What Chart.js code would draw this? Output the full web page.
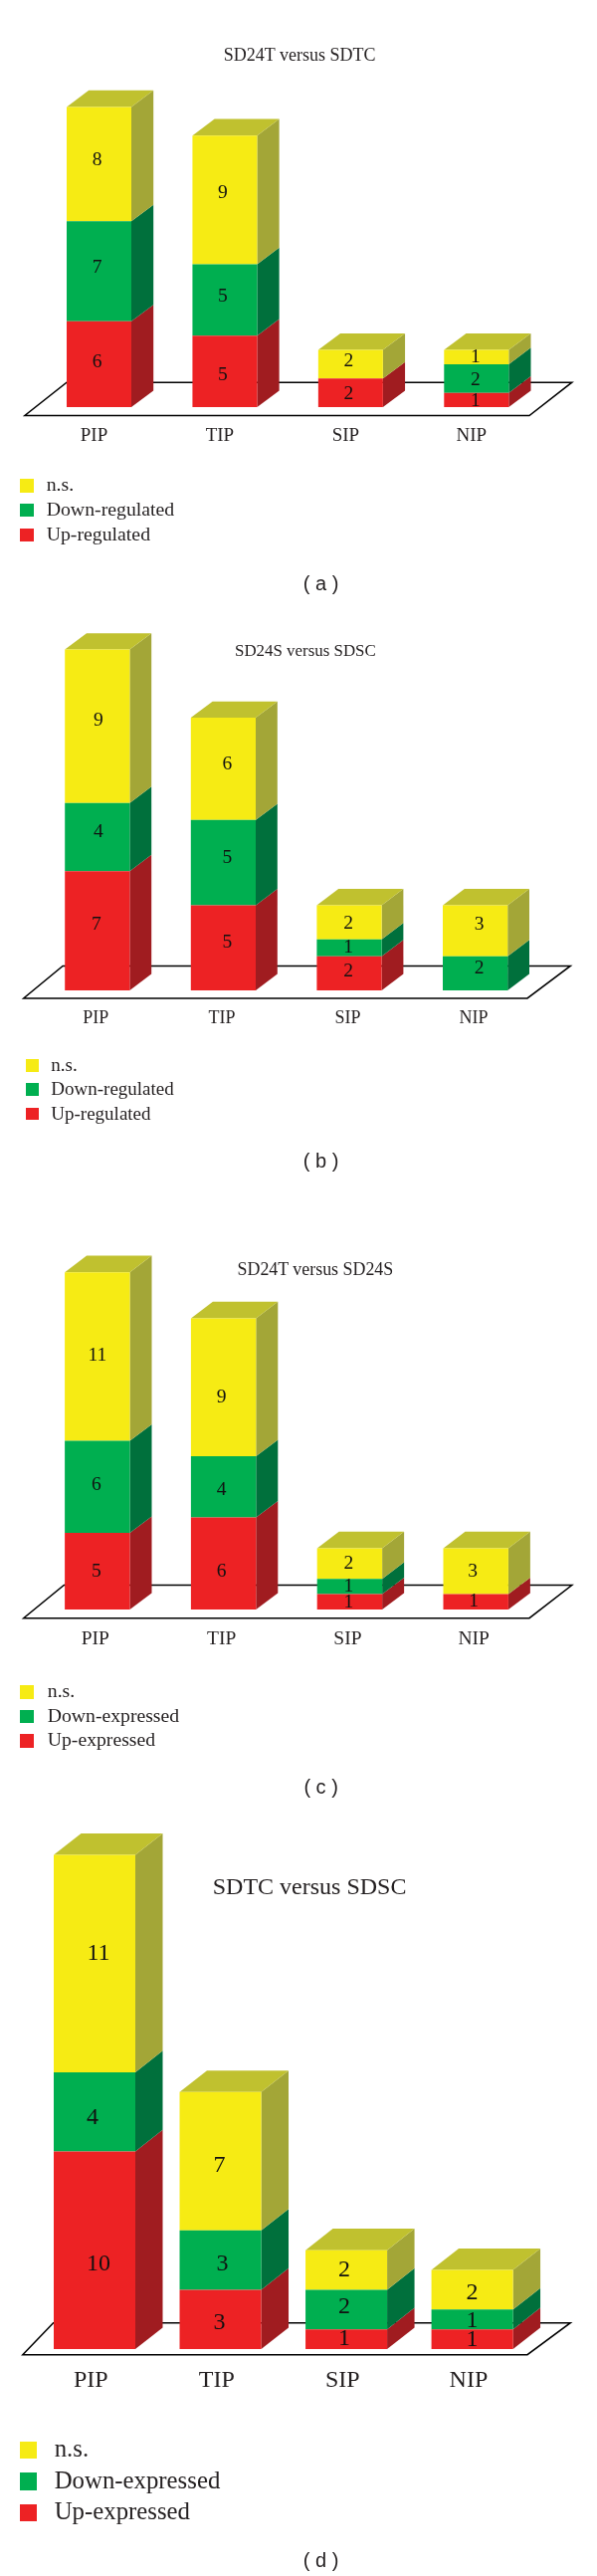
<!DOCTYPE html>
<html lang="en">
<head>
<meta charset="UTF-8">
<title>Stacked bars</title>
<script src="https://cdn.jsdelivr.net/npm/chart.js@4"></script>
<style>
    html, body { margin: 0; padding: 0; background: #fff; }
    #page { position: relative; width: 600px; height: 2588px; overflow: hidden; }
    #page canvas { position: absolute; left: 0; }
    .txt { position: absolute; white-space: nowrap; color: #231f20; font-family: "Liberation Serif", serif; line-height: 1; }
    .cap { font-family: "Liberation Sans", sans-serif; }
    .swatch { position: absolute; }
</style>
</head>
<body>
<div id="page"></div>
<script>
const categories = ['PIP', 'TIP', 'SIP', 'NIP'];
const captions = ['( a )', '( b )', '( c )', '( d )'];
const titles = ['SD24T versus SDTC', 'SD24S versus SDSC', 'SD24T versus SD24S', 'SDTC versus SDSC'];
const legendRegulated = ['n.s.', 'Down-regulated', 'Up-regulated'];
const legendExpressed = ['n.s.', 'Down-expressed', 'Up-expressed'];

const upA = [6, 5, 2, 1];
const downA = [7, 5, 0, 2];
const nsA = [8, 9, 2, 1];

const upB = [7, 5, 2, 0];
const downB = [4, 5, 1, 2];
const nsB = [9, 6, 2, 3];

const upC = [5, 6, 1, 1];
const downC = [6, 4, 1, 0];
const nsC = [11, 9, 2, 3];

const upD = [10, 3, 1, 1];
const downD = [4, 3, 2, 1];
const nsD = [11, 7, 2, 2];

// front, side, top colours per stack level
const front = ['#ed2224', '#00af50', '#f6eb14'];
const side = ['#a01c20', '#00703c', '#a3a637'];
const topFace = '#c0c12f';

// where each panel sits on the page (all local to the panel except top)
const layouts = [
    { top: 0, height: 620, first: 99.5, pitch: 126.43, barW: 65, base: 409, unit: 14.36, yMax: 22, dx: 22.2, dy: 16.6,
      ground: [24.9, 532, 574.8, 67, 417.5, 384.2], tickOffset: -5, tickPad: 18, tickFont: 19, valueFont: 19.5,
      title: [301.2, 54.5, 18], legX: 19.9, legW: 13.8, legH: 13.8, legTextX: 46.7, legY: [488, 512.6, 537.5], legFont: 19.8, capY: 585.8 },
    { top: 620, height: 580, first: 97.8, pitch: 126.6, barW: 65.2, base: 375, unit: 17.12, yMax: 21, dx: 21.8, dy: 16.4,
      ground: [23.7, 530, 573.3, 63.1, 382.9, 350.4], tickOffset: -1.5, tickPad: 17, tickFont: 18, valueFont: 19.5,
      title: [306.9, 34.6, 16.9], legX: 25.6, legW: 13.4, legH: 12.5, legTextX: 51.3, legY: [450.7, 474.6, 499], legFont: 19, capY: 545.7 },
    { top: 1200, height: 620, first: 97.8, pitch: 126.8, barW: 65.4, base: 417, unit: 15.4, yMax: 23, dx: 22, dy: 16.6,
      ground: [23.7, 532, 574.8, 64.3, 425.7, 392.5], tickOffset: -2, tickPad: 18.5, tickFont: 19.5, valueFont: 19.5,
      title: [316.9, 76.3, 17.9], legX: 19.9, legW: 13.8, legH: 13.8, legTextX: 47.8, legY: [500, 524.5, 549], legFont: 19.7, capY: 595.3 },
    { top: 1820, height: 768, first: 95, pitch: 126.53, barW: 82, base: 540, unit: 19.86, yMax: 26, dx: 27.5, dy: 21.6,
      ground: [22.8, 530, 573.3, 53.6, 545.7, 513.7], tickOffset: -3.7, tickPad: 17.6, tickFont: 24, valueFont: 24,
      title: [311.1, 74.5, 24], legX: 19.9, legW: 17.6, legH: 17.2, legTextX: 54.7, legY: [641.7, 673, 704.4], legFont: 24.8, capY: 752 }
];

// the digits were placed by hand in the original, so each one gets its own shift [dx, dy]
const valueShifts = [
    [
        [[-2, -2], [-2, 4], [-2, 1], [-1, 1]],
        [[-2, -4], [-2, -3], [0, 0], [-1, 2]],
        [[-2, -4], [-2, -7], [-2, -3], [-1, 0]]
    ],
    [
        [[-1, -6], [4, -5], [-1, -2], [0, 0]],
        [[1, -5], [4, -5], [-1, 0], [4, -5]],
        [[1, -6], [4, -5], [-1, 1], [4, -6]]
    ],
    [
        [[-1, 0], [-2, 8], [-1, 1], [-2, 0]],
        [[-1, -2], [-2, 3], [-1, 0], [0, 0]],
        [[0, -1], [-2, 10], [-1, 0], [-3, 0]]
    ],
    [
        [[4, 14], [-1, 3], [-2, 0], [0, 1]],
        [[-2, 6], [2, 4], [-2, -3], [0, 1]],
        [[4, -10], [-1, 4], [-2, 0], [0, 3]]
    ]
];

const panelSeries = [
    { up: upA, down: downA, ns: nsA, legend: legendRegulated },
    { up: upB, down: downB, ns: nsB, legend: legendRegulated },
    { up: upC, down: downC, ns: nsC, legend: legendExpressed },
    { up: upD, down: downD, ns: nsD, legend: legendExpressed }
];

const page = document.getElementById('page');

function addText(text, x, y, size, centered, cls) {
    const d = document.createElement('div');
    d.className = 'txt' + (cls ? ' ' + cls : '');
    d.textContent = text;
    d.style.fontSize = size + 'px';
    d.style.left = x + 'px';
    d.style.top = (y - size / 2) + 'px';
    if (centered) d.style.transform = 'translateX(-50%)';
    page.appendChild(d);
}

function poly(ctx, pts, color) {
    ctx.beginPath();
    pts.forEach((p, i) => i ? ctx.lineTo(p[0], p[1]) : ctx.moveTo(p[0], p[1]));
    ctx.closePath();
    ctx.fillStyle = color;
    ctx.fill();
}

// ground plate, then the side and top faces worked out from the bars themselves
const boxFaces = {
    id: 'boxFaces',
    beforeDatasetsDraw(chart, args, opts) {
        const ctx = chart.ctx;
        const g = opts.ground;
        ctx.save();
        ctx.beginPath();
        ctx.moveTo(g[0], g[4]);
        ctx.lineTo(g[1], g[4]);
        ctx.lineTo(g[2], g[5]);
        ctx.lineTo(g[3], g[5]);
        ctx.closePath();
        ctx.strokeStyle = '#000';
        ctx.lineWidth = 1.5;
        ctx.stroke();

        const dx = opts.dx, dy = opts.dy;
        chart.data.datasets.forEach((ds, level) => {
            chart.getDatasetMeta(level).data.forEach((bar, i) => {
                if (!ds.data[i]) return;
                const r = bar.x + bar.width / 2;
                const l = bar.x - bar.width / 2;
                poly(ctx, [[r, bar.y], [r + dx, bar.y - dy], [r + dx, bar.base - dy], [r, bar.base]], side[level]);
                const above = chart.data.datasets.slice(level + 1).some(d => d.data[i]);
                if (!above) poly(ctx, [[l, bar.y], [l + dx, bar.y - dy], [r + dx, bar.y - dy], [r, bar.y]], topFace);
            });
        });
        ctx.restore();
    },
    afterDatasetsDraw(chart, args, opts) {
        const ctx = chart.ctx;
        ctx.save();
        ctx.font = opts.valueFont + 'px "Liberation Serif", serif';
        ctx.textAlign = 'center';
        ctx.textBaseline = 'middle';
        ctx.fillStyle = '#111';
        chart.data.datasets.forEach((ds, level) => {
            chart.getDatasetMeta(level).data.forEach((bar, i) => {
                if (!ds.data[i]) return;
                const shift = opts.shifts[level][i];
                ctx.fillText(ds.data[i], bar.x + shift[0], (bar.y + bar.base) / 2 + shift[1]);
            });
        });
        ctx.restore();
    }
};

layouts.forEach((lay, p) => {
    const s = panelSeries[p];
    const canvas = document.createElement('canvas');
    canvas.width = 600;
    canvas.height = lay.height;
    canvas.style.top = lay.top + 'px';
    page.appendChild(canvas);

    const left = lay.first - lay.pitch / 2;
    new Chart(canvas, {
        type: 'bar',
        data: {
            labels: categories,
            datasets: [
                { label: s.legend[2], data: s.up, backgroundColor: front[0] },
                { label: s.legend[1], data: s.down, backgroundColor: front[1] },
                { label: s.legend[0], data: s.ns, backgroundColor: front[2] }
            ]
        },
        options: {
            responsive: false,
            animation: false,
            barPercentage: lay.barW / lay.pitch,
            categoryPercentage: 1,
            layout: { padding: { left: left, right: 600 - left - 4 * lay.pitch, top: lay.base - lay.unit * lay.yMax, bottom: 0 } },
            plugins: {
                legend: { display: false },
                title: { display: false },
                tooltip: { enabled: false },
                boxFaces: { ground: lay.ground, dx: lay.dx, dy: lay.dy, valueFont: lay.valueFont, shifts: valueShifts[p] }
            },
            scales: {
                x: {
                    stacked: true,
                    border: { display: false },
                    grid: { display: false, drawTicks: false },
                    ticks: {
                        color: '#231f20',
                        padding: lay.tickPad,
                        labelOffset: lay.tickOffset,
                        maxRotation: 0,
                        font: { family: '"Liberation Serif", serif', size: lay.tickFont }
                    },
                    afterFit(scale) { scale.height = lay.height - lay.base; }
                },
                y: { stacked: true, display: false, min: 0, max: lay.yMax }
            }
        },
        plugins: [boxFaces]
    });

    addText(titles[p], lay.title[0], lay.top + lay.title[1], lay.title[2], true);
    s.legend.forEach((name, i) => {
        const sw = document.createElement('div');
        sw.className = 'swatch';
        sw.style.left = lay.legX + 'px';
        sw.style.top = (lay.top + lay.legY[i] - lay.legH / 2) + 'px';
        sw.style.width = lay.legW + 'px';
        sw.style.height = lay.legH + 'px';
        sw.style.background = front[2 - i];
        page.appendChild(sw);
        addText(name, lay.legTextX, lay.top + lay.legY[i] - 1, lay.legFont, false);
    });
    addText(captions[p], 322.6, lay.top + lay.capY, 20, true, 'cap');
});
</script>
</body>
</html>
